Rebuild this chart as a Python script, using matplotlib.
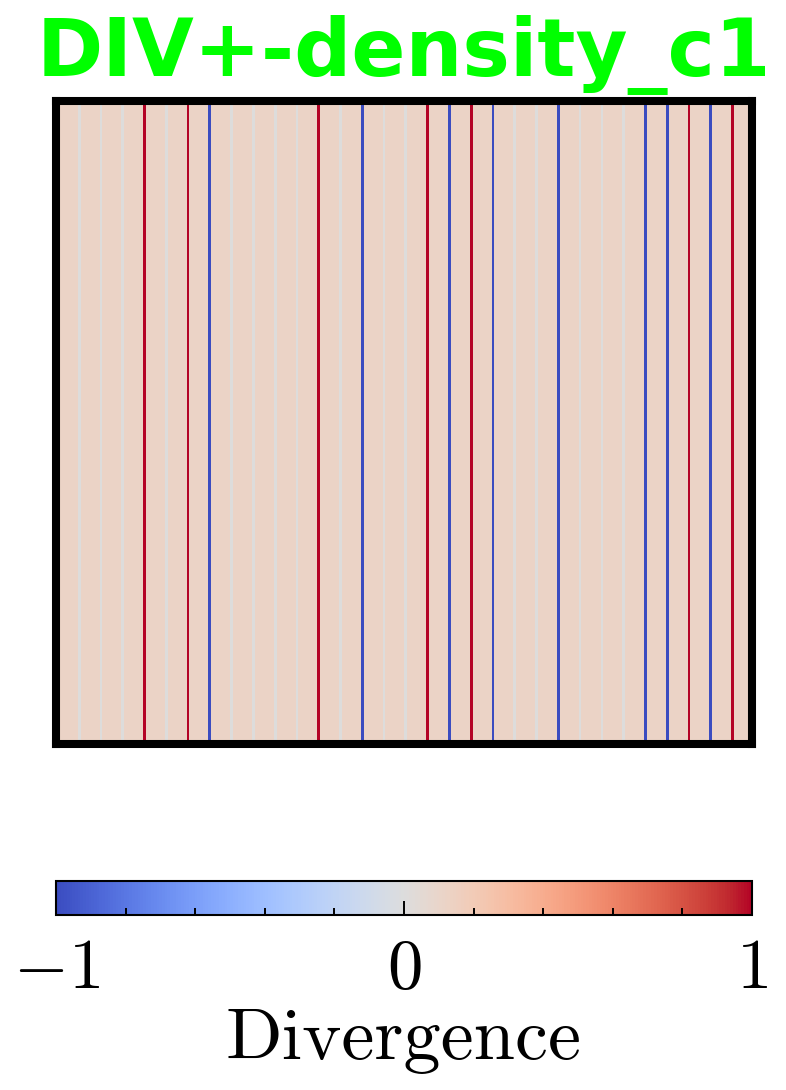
import numpy as np
import matplotlib
matplotlib.use("Agg")
from matplotlib import pyplot as plt
from matplotlib.ticker import MultipleLocator

plt.rcParams['mathtext.fontset'] = 'cm'
plt.rcParams['axes.formatter.use_mathtext'] = True

# divergence values, one cell per grid column (32 cells)
# each cell = a thin edge column + a wide interior at the background value
background = 0.12
edge_values = [0, 0, 0, 0, 1, 0, 1, -1, 0, 0, 0, 0, 1, 0, -1, 0,
               0, 1, -1, 1, -1, 0, 0, -1, 0, 0, 0, -1, -1, 1, -1, 1]
sub_cols = 8
cbar_ticks = [-1, 0, 1]
cbar_labels = [r'$-1$', r'$0$', r'$1$']

row = []
for v in edge_values:
    row.append(v)
    row.extend([background] * (sub_cols - 1))
field = np.array([row])

fig = plt.figure(figsize=(7.86, 10.9), dpi=100)
ax = fig.add_axes([0.0712, 0.3174, 0.8855, 0.590])
im = ax.imshow(field, cmap='coolwarm', vmin=-1, vmax=1, aspect='auto',
               interpolation='nearest')
ax.set_xticks([])
ax.set_yticks([])
for s in ax.spines.values():
    s.set_linewidth(5.8)

ax.set_title('DIV+-density_c1', fontsize=57.5, fontweight='bold',
             color='#00ff00', family='DejaVu Sans', pad=18)

cax = fig.add_axes([0.0712, 0.1606, 0.8855, 0.0307])
cb = fig.colorbar(im, cax=cax, orientation='horizontal')
cb.set_ticks(cbar_ticks)
cb.set_ticklabels(cbar_labels)
cb.ax.xaxis.set_minor_locator(MultipleLocator(0.2))
cb.ax.tick_params(which='both', direction='in', width=1.4, labelsize=51, pad=14)
cb.ax.tick_params(which='major', length=10)
cb.ax.tick_params(which='minor', length=5)
cb.outline.set_linewidth(1.5)
cb.set_label('Divergence', family='cmr10', fontsize=53.5, labelpad=4)

fig.savefig('out.png', dpi=100)
